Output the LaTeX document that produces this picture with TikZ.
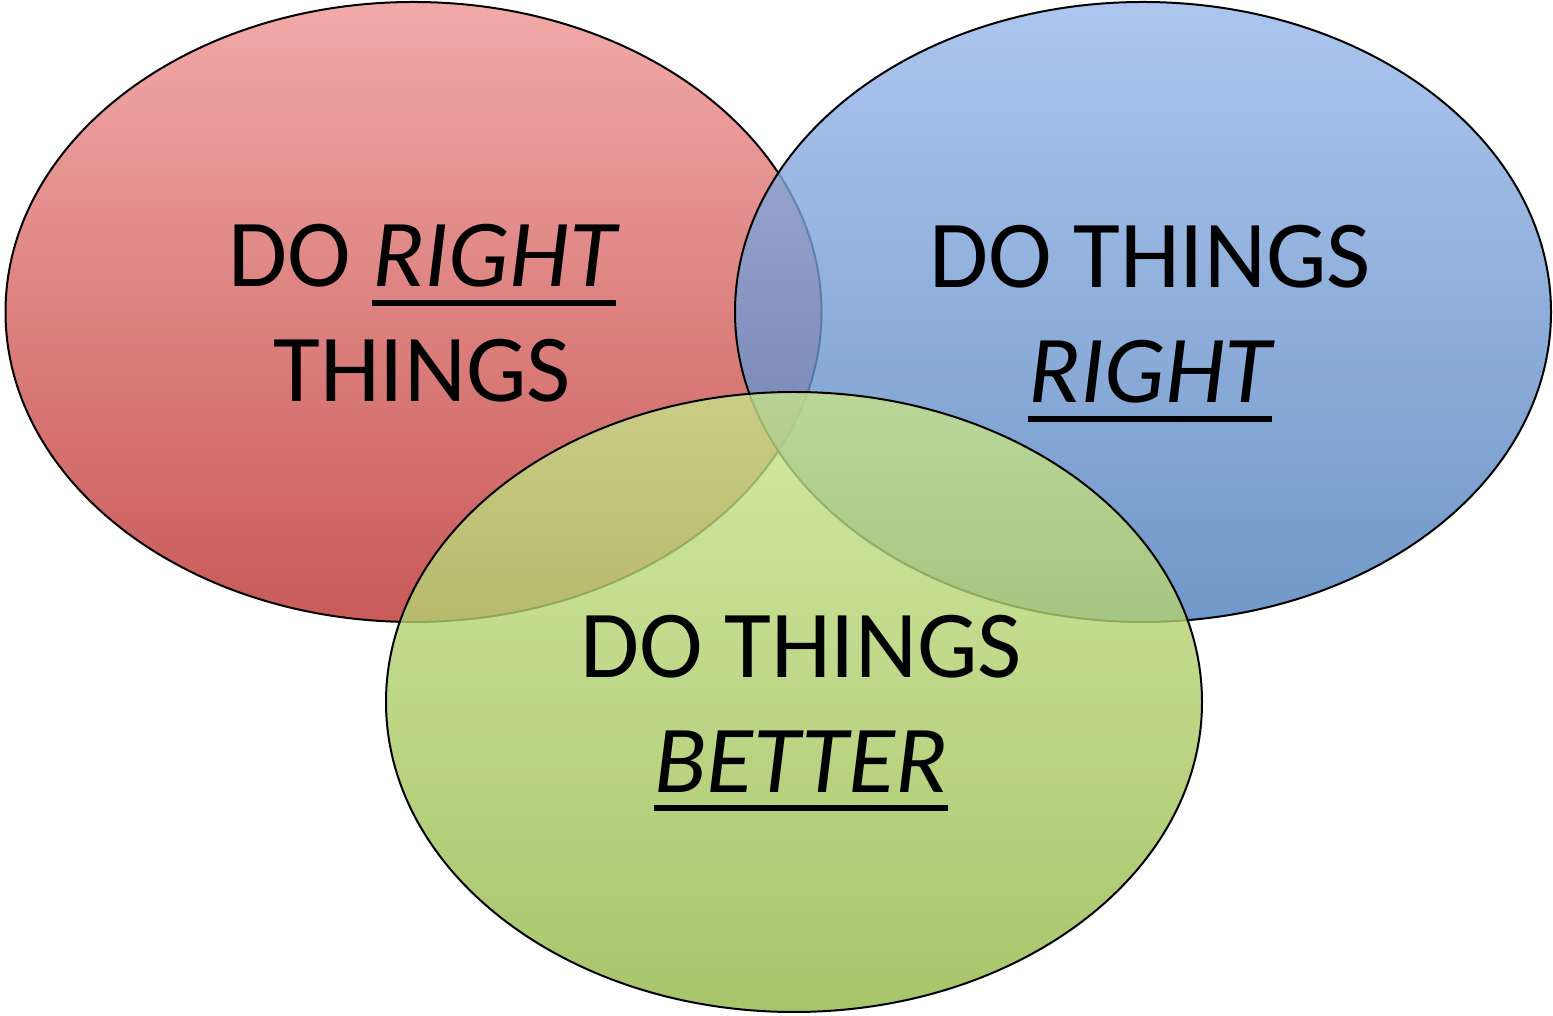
\documentclass[tikz,border=0pt]{standalone}
\usepackage{fontspec}
\setmainfont{Carlito}
\usepackage{tikz}
\usetikzlibrary{positioning, shapes.geometric}

\definecolor{redtop}{RGB}{238,148,146}
\definecolor{redbot}{RGB}{186,49,47}
\definecolor{bluetop}{RGB}{152,183,234}
\definecolor{bluebot}{RGB}{77,126,186}
\definecolor{greentop}{RGB}{199,227,139}
\definecolor{greenbot}{RGB}{146,182,70}

% underlined word, rule kept out of the box depth
\newcommand{\ulword}[1]{\setbox0\hbox{#1}\rlap{\smash{\rule[-19pt]{\wd0}{6pt}}}\box0}

\begin{document}
\begin{tikzpicture}[
    x=1pt, y=1pt,
    bubble/.style={ellipse, draw=black, line width=2pt, inner sep=0pt, minimum width=816pt, minimum height=620pt, fill opacity=0.8},
    motto/.style={inner sep=0pt, align=center, font=\fontsize{96}{115}\selectfont}
]
    \useasboundingbox (0,0) rectangle (1553,1016);

    \node[bubble, top color=redtop, bottom color=redbot] (right) at (413.5,704) {};
    \node[bubble, top color=bluetop, bottom color=bluebot] (things) at (1143,704) {};
    \node[bubble, top color=greentop, bottom color=greenbot] (better) at (794,314) {};

    \node[motto] (rightlbl) at (422,702.5) {DO \ulword{\itshape RIGHT}\\THINGS};
    \node[motto] (thingslbl) at (1150,701.5) {DO THINGS\\\ulword{\itshape RIGHT}};
    \node[motto] (betterlbl) at (801,312.5) {DO THINGS\\\ulword{\itshape BETTER}};

\end{tikzpicture}
\end{document}
